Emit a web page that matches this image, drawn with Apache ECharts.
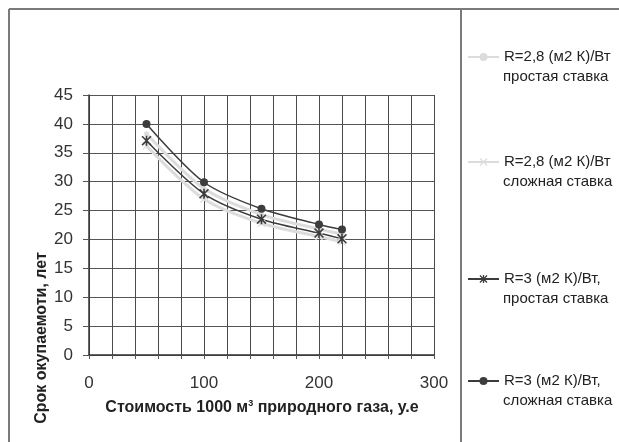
<!DOCTYPE html>
<html><head><meta charset="utf-8">
<script src="https://cdn.jsdelivr.net/npm/echarts@6/dist/echarts.min.js"></script>
<style>html,body{margin:0;padding:0;background:#fff}#c{width:619px;height:442px}</style>
</head><body><div id="c"></div>
<script>
var gasPrice = [50, 100, 150, 200, 220];
var r28Simple = [38.3, 28.8, 24.3, 21.8, 20.9];
var r28Complex = [36.2, 27.0, 22.8, 20.5, 19.6];
var r3Simple = [37.1, 27.9, 23.5, 21.1, 20.1];
var r3Complex = [40.0, 29.9, 25.3, 22.6, 21.7];
var seriesNames = [
  'R=2,8 (м2 К)/Вт\nпростая ставка',
  'R=2,8 (м2 К)/Вт\nсложная ставка',
  'R=3 (м2 К)/Вт,\nпростая ставка',
  'R=3 (м2 К)/Вт,\nсложная ставка'
];
var xTicks = [0, 100, 200, 300];

function pts(ys){ return gasPrice.map(function(x,i){ return [x, ys[i]]; }); }
var starPath = 'path://M4.2,0L5.8,0L5.8,10L4.2,10Z M0,1.1L1.1,0L10,8.9L8.9,10Z M8.9,0L10,1.1L1.1,10L0,8.9Z';
var xPath = 'path://M0,1.1L1.1,0L10,8.9L8.9,10Z M8.9,0L10,1.1L1.1,10L0,8.9Z';

var FONT = 'Liberation Sans, Arial';
var chart = echarts.init(document.getElementById('c'), null, {renderer:'canvas'});
var legendCenters = [57, 162, 279, 381];
var legends = seriesNames.map(function(n, i){
  return {
    data: [n], orient: 'vertical', left: 467, top: legendCenters[i] - 10, padding: 0,
    itemWidth: 31, itemHeight: 10,
    formatter: function(name){ return name.split('\n')[0]; },
    textStyle: {fontFamily: FONT, fontSize: 15, color: '#222', lineHeight: 20}
  };
});
var secondLines = seriesNames.map(function(n, i){
  return {type: 'text', x: 503, y: legendCenters[i] + 20,
    style: {text: n.split('\n')[1], fontFamily: FONT, fontSize: 15, fill: '#222', align: 'left', verticalAlign: 'middle'}};
});
var lightColor = '#dcdcdc';
var darkColor = '#3c3c3c';
chart.setOption({
  animation: false,
  backgroundColor: '#fff',
  legend: legends,
  grid: {left: 89, right: 185, top: 95, bottom: 87, containLabel: false},
  xAxis: {
    type: 'value', min: 0, max: 300, interval: 20,
    axisLine: {show: true, lineStyle: {color: '#333', width: 1.5}},
    axisTick: {show: true, length: 4, inside: false, lineStyle: {color: '#555'}},
    axisLabel: {
      margin: 20, fontFamily: FONT, fontSize: 17, color: '#333',
      formatter: function(v){ return xTicks.indexOf(v) >= 0 ? String(v) : ''; }
    },
    splitLine: {show: true, lineStyle: {color: '#4a4a4a', width: 1}}
  },
  yAxis: {
    type: 'value', min: 0, max: 45, interval: 5,
    axisLine: {show: true, lineStyle: {color: '#333', width: 1.5}},
    axisTick: {show: true, length: 6, lineStyle: {color: '#555'}},
    axisLabel: {margin: 16, fontFamily: FONT, fontSize: 17, color: '#333'},
    splitLine: {show: true, lineStyle: {color: '#555', width: 1}}
  },
  series: [
    {name: seriesNames[0], type: 'line', data: pts(r28Simple), smooth: 0.3,
     symbol: 'circle', symbolSize: 5, color: lightColor,
     lineStyle: {color: lightColor, width: 3}, itemStyle: {color: lightColor}},
    {name: seriesNames[1], type: 'line', data: pts(r28Complex), smooth: 0.3,
     symbol: xPath, symbolSize: 8, color: lightColor,
     lineStyle: {color: lightColor, width: 3}, itemStyle: {color: lightColor}},
    {name: seriesNames[2], type: 'line', data: pts(r3Simple), smooth: 0.3,
     symbol: starPath, symbolSize: 10, color: darkColor,
     lineStyle: {color: darkColor, width: 1.5}, itemStyle: {color: darkColor}},
    {name: seriesNames[3], type: 'line', data: pts(r3Complex), smooth: 0.3,
     symbol: 'circle', symbolSize: 8, color: darkColor,
     lineStyle: {color: darkColor, width: 1.5}, itemStyle: {color: darkColor}}
  ],
  graphic: [
    {type: 'line', shape: {x1: 9, y1: 9, x2: 619, y2: 9}, style: {stroke: '#7a7a7a', lineWidth: 2}},
    {type: 'line', shape: {x1: 9, y1: 9, x2: 9, y2: 442}, style: {stroke: '#7a7a7a', lineWidth: 2}},
    {type: 'line', shape: {x1: 461, y1: 9, x2: 461, y2: 442}, style: {stroke: '#7a7a7a', lineWidth: 2}},
    {type: 'text', x: 42, y: 338, rotation: Math.PI/2,
     style: {text: 'Срок окупаемоти, лет', fontFamily: FONT, fontSize: 16, fontWeight: 'bold',
             fill: '#222', align: 'center', verticalAlign: 'middle'}},
    {type: 'text', x: 262, y: 408,
     style: {
       text: '{a|Стоимость 1000 м}{s|3}{a| природного газа, у.е}',
       align: 'center', verticalAlign: 'middle',
       rich: {
         a: {fontFamily: FONT, fontSize: 16, fontWeight: 'bold', fill: '#222', color: '#222'},
         s: {fontFamily: FONT, fontSize: 9, fontWeight: 'bold', fill: '#222', color: '#222', verticalAlign: 'top', padding: [0,0,9,0]}
       }
     }}
  ].concat(secondLines)
});
</script></body></html>
